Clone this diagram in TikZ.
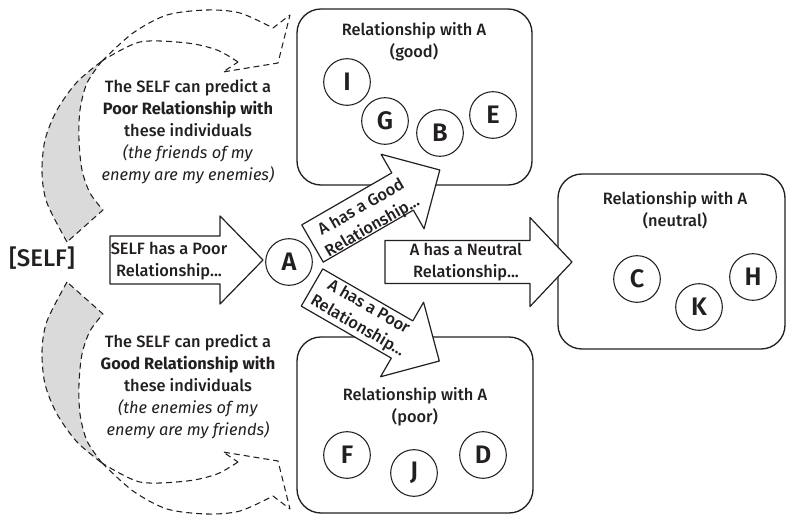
\documentclass[tikz,border=0pt]{standalone}
\usepackage{fontspec}
\IfFontExistsTF{Fira Sans Medium}
  {\setmainfont{Fira Sans}[UprightFont={* Medium},BoldFont={* Bold},ItalicFont={* Italic},BoldItalicFont={* Bold Italic}]}
  {\setmainfont{Fira Sans}}
\IfFontExistsTF{Fira Sans SemiBold}
  {\newfontfamily\letterfont{Fira Sans SemiBold}}
  {\newfontfamily\letterfont{Fira Sans Bold}}
\definecolor{ink}{RGB}{35,31,32}
\definecolor{ribbongray}{RGB}{218,218,218}
\begin{document}
\begin{tikzpicture}[x=0.75pt,y=-0.75pt,line join=round,
  grpbox/.style={draw=ink,line width=1pt,rounded corners=18pt,inner sep=0pt},
  person/.style={draw=ink,circle,line width=0.8pt,minimum size=35pt,inner sep=0pt,
    text=ink,font=\fontsize{19}{19}\letterfont},
  lbl/.style={align=center,inner sep=0pt,text=ink,font=\fontsize{12.3}{16.5}\selectfont},
  blk/.style={draw=ink,line width=0.9pt,fill=white},
  ribbon/.style={draw=ink,line width=0.8pt,dash pattern=on 4.5pt off 3pt}]
\useasboundingbox (0,0) rectangle (788,516);

% group boxes
\node[grpbox,minimum width=176.25pt,minimum height=132pt] (goodbox) at (414.5,97) {};
\node[grpbox,minimum width=170.25pt,minimum height=131.25pt] (neutralbox) at (671.5,261.5) {};
\node[grpbox,minimum width=177pt,minimum height=132pt] (poorbox) at (415,425) {};

\node[lbl] (goodtitle) at (414,41.5) {Relationship with A\\(good)};
\node[lbl] (neutraltitle) at (675,210) {Relationship with A\\(neutral)};
\node[lbl] (poortitle) at (415,407) {Relationship with A\\(poor)};

% individuals
\node[person] (I) at (347,82) {I};
\node[person] (G) at (385,121) {G};
\node[person] (B) at (440,133) {B};
\node[person] (E) at (493,115) {E};
\node[person] (C) at (637,279) {C};
\node[person] (K) at (699,307) {K};
\node[person] (H) at (753,277) {H};
\node[person] (F) at (347,455) {F};
\node[person] (J) at (414,473) {J};
\node[person] (D) at (483,455) {D};
\node[person] (A) at (289,262) {A};

\node[text=ink,inner sep=0pt,font=\fontsize{18}{18}\selectfont] (self) at (42,258) {[SELF]};

% block arrows
\begin{scope}[shift={(110,260)}]
  \draw[blk] (0,-24) -- (110,-24) -- (110,-44) -- (153,0) -- (110,44) -- (110,24) -- (0,24) -- cycle;
\end{scope}
\begin{scope}[shift={(385,262)}]
  \draw[blk] (0,-21.5) -- (145,-21.5) -- (145,-44.5) -- (187,0) -- (145,44.5) -- (145,21.5) -- (0,21.5) -- cycle;
\end{scope}
\begin{scope}[shift={(312.5,243.5)},rotate=30]
  \draw[blk] (0,-21.5) -- (104,-21.5) -- (104,-43) -- (147,0) -- (104,43) -- (104,21.5) -- (0,21.5) -- cycle;
\end{scope}
\begin{scope}[shift={(312,287.5)},rotate=-30]
  \draw[blk] (0,-21.5) -- (104,-21.5) -- (104,-43) -- (147,0) -- (104,43) -- (104,21.5) -- (0,21.5) -- cycle;
\end{scope}

\node[lbl] (selflbl) at (169,261) {SELF has a Poor\\Relationship...};
\node[lbl] (neutrallbl) at (466,262) {A has a Neutral\\Relationship...};
\node[lbl,rotate=30] (goodlbl) at (367,217.5) {A has a Good\\Relationship...};
\node[lbl,rotate=-30] (poorlbl) at (363,317) {A has a Poor\\Relationship...};

% curved ribbons (lower one is the mirror image of the upper one)
\foreach \flip/\off in {1/0,-1/524}{
\begin{scope}[shift={(0,\off)},yscale=\flip]
  \fill[ribbongray] plot[smooth] coordinates {(67,242) (47,203) (42,173) (45,140) (57,110) (77,82) (102,61)}
     -- plot[smooth] coordinates {(102,61) (87,83) (80,110) (79,140) (82,170) (90,193) (103,210)} -- cycle;
  \draw[ribbon] plot[smooth] coordinates {(67,242) (47,203) (42,173) (45,140) (57,110) (77,82) (102,61)};
  \draw[ribbon] plot[smooth] coordinates {(102,61) (87,83) (80,110) (79,140) (82,170) (90,193) (103,210)} -- (67,242);
  \draw[ribbon] plot[smooth] coordinates {(102,61) (133,33) (167,15) (207,10) (240,13) (273,28)}
     -- (290,15) -- (278,63) -- (223,72) -- (238,62);
  \draw[ribbon] plot[smooth] coordinates {(238,62) (217,50) (187,43) (140,42) (102,61)};
\end{scope}}

\node[lbl] (toptext) at (188,131.5) {The SELF can predict a\\\textbf{Poor Relationship with}\\these individuals\\\textit{(the friends of my}\\\textit{enemy are my enemies)}};
\node[lbl] (bottext) at (188,387) {The SELF can predict a\\\textbf{Good Relationship with}\\these individuals\\\textit{(the enemies of my}\\\textit{enemy are my friends)}};
\end{tikzpicture}
\end{document}
